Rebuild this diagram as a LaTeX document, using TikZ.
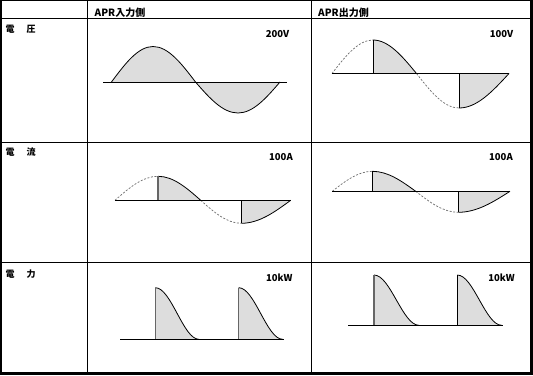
\documentclass[tikz,border=0pt]{standalone}
\usepackage{fontspec}
\setmainfont{Noto Sans CJK JP}
\begin{document}
\begin{tikzpicture}[x=1pt,y=-1pt,
  lbl/.style={inner sep=0pt,font=\fontsize{9.5}{10}\selectfont\bfseries},
  hdr/.style={inner sep=0pt,font=\fontsize{10}{11}\selectfont\bfseries,anchor=base west},
  rowlbl/.style={inner sep=0pt,font=\fontsize{9}{10}\selectfont\bfseries,anchor=base west},
  grid/.style={line width=1pt,black},
  axisline/.style={line width=1pt,black},
  wave/.style={line width=0.8pt,black},
  dashwave/.style={line width=0.7pt,gray!85!black,dash pattern=on 2pt off 1.6pt},
  shade/.style={fill=gray!27},
  edge/.style={line width=0.9pt,black},
  gedge/.style={line width=1.1pt,gray!80!black}]
\useasboundingbox (0,0) rectangle (533,375);
\fill[white] (0,0) rectangle (533,375);
% table grid
\draw[grid] (0,18.5) -- (533,18.5);
\draw[grid] (0,142.3) -- (533,142.3);
\draw[grid] (0,262) -- (533,262);
\draw[grid] (87,0) -- (87,375);
\draw[grid] (311,0) -- (311,375);
% outer border
\draw[line width=1pt] (0,0.5) -- (533,0.5);
\draw[line width=2pt] (1,0) -- (1,375);
\draw[line width=3pt] (531.5,0) -- (531.5,375);
\draw[line width=2.7pt] (0,373.6) -- (533,373.6);
% header
\node[hdr] (hin) at (94.5,16) {APR入力側};
\node[hdr] (hout) at (318,16) {APR出力側};
% row labels
\node[rowlbl] (rv) at (5.5,32.5) {電\hspace{12pt}圧};
\node[rowlbl] (ri) at (5.5,155.5) {電\hspace{12pt}流};
\node[rowlbl] (rp) at (5.5,277.5) {電\hspace{12pt}力};
% value labels
\node[lbl,anchor=base east] (v1) at (289.5,37) {200V};
\node[lbl,anchor=base east] (v2) at (513.5,37) {100V};
\node[lbl,anchor=base east] (i1) at (293,160.5) {100A};
\node[lbl,anchor=base east] (i2) at (513,160.5) {100A};
\node[lbl,anchor=base east] (p1) at (292.7,281.5) {10kW};
\node[lbl,anchor=base east] (p2) at (515,281.5) {10kW};

% ---- voltage, input
\fill[shade] (111.5,82) sin (153,46.5) cos (195.5,82) sin (238,113) cos (280,82) -- cycle;
\draw[wave] (111.5,82) sin (153,46.5) cos (195.5,82) sin (238,113) cos (280,82);
\draw[axisline] (103,82) -- (287,82);
% ---- voltage, output
\draw[dashwave] (332,73.5) sin (373,40);
\draw[dashwave] (416.5,73.5) sin (459,108);
\fill[shade] (373,73.5) -- (373,40) cos (416.5,73.5) -- cycle;
\fill[shade] (459,73.5) -- (459,108) cos (509,73.5) -- cycle;
\draw[wave] (373,40) cos (416.5,73.5);
\draw[wave] (459,108) cos (509,73.5);
\draw[edge] (373,73.5) -- (373,40);
\draw[edge] (459,73.5) -- (459,108);
\draw[axisline] (332,73.5) -- (509,73.5);

% ---- current, input
\draw[dashwave] (115,200.3) sin (158,176.3);
\draw[dashwave] (200.7,200.3) sin (241.3,223.3);
\fill[shade] (158,200.3) -- (158,176.3) cos (200.7,200.3) -- cycle;
\fill[shade] (241.3,200.3) -- (241.3,223.3) cos (290.7,200.3) -- cycle;
\draw[wave] (158,176.3) cos (200.7,200.3);
\draw[wave] (241.3,223.3) cos (290.7,200.3);
\draw[gedge] (158,200.3) -- (158,176.3);
\draw[edge] (241.3,200.3) -- (241.3,223.3);
\draw[axisline] (115,200.3) -- (290.7,200.3);
% ---- current, output
\draw[dashwave] (332.3,191.3) sin (372.3,171.3);
\draw[dashwave] (415.7,191.3) sin (458.3,212.3);
\fill[shade] (372.3,191.3) -- (372.3,171.3) cos (415.7,191.3) -- cycle;
\fill[shade] (458.3,191.3) -- (458.3,212.3) cos (510,191.3) -- cycle;
\draw[wave] (372.3,171.3) cos (415.7,191.3);
\draw[wave] (458.3,212.3) cos (510,191.3);
\draw[edge] (372.3,191.3) -- (372.3,171.3);
\draw[edge] (458.3,191.3) -- (458.3,212.3);
\draw[axisline] (332.3,191.3) -- (510,191.3);

% ---- power, input
\fill[shade] (155.3,339.3) -- (155.3,287.7) cos (177.2,313.5) sin (199,339.3) -- cycle;
\fill[shade] (238.7,339.3) -- (238.7,287.7) cos (260.7,313.5) sin (282.7,339.3) -- cycle;
\draw[wave] (155.3,287.7) cos (177.2,313.5) sin (199,339.3);
\draw[wave] (238.7,287.7) cos (260.7,313.5) sin (282.7,339.3);
\draw[gedge] (155.3,339.3) -- (155.3,287.7);
\draw[gedge] (238.7,339.3) -- (238.7,287.7);
\draw[axisline] (120,339.3) -- (284,339.3);
% ---- power, output
\fill[shade] (374,325.3) -- (374,275) cos (396.5,300.2) sin (419,325.3) -- cycle;
\fill[shade] (457.3,325.3) -- (457.3,275) cos (479.5,300.2) sin (501.7,325.3) -- cycle;
\draw[wave] (374,275) cos (396.5,300.2) sin (419,325.3);
\draw[wave] (457.3,275) cos (479.5,300.2) sin (501.7,325.3);
\draw[gedge] (374,325.3) -- (374,275);
\draw[edge] (457.3,325.3) -- (457.3,275);
\draw[axisline] (348.3,325.3) -- (502.7,325.3);
\end{tikzpicture}
\end{document}
